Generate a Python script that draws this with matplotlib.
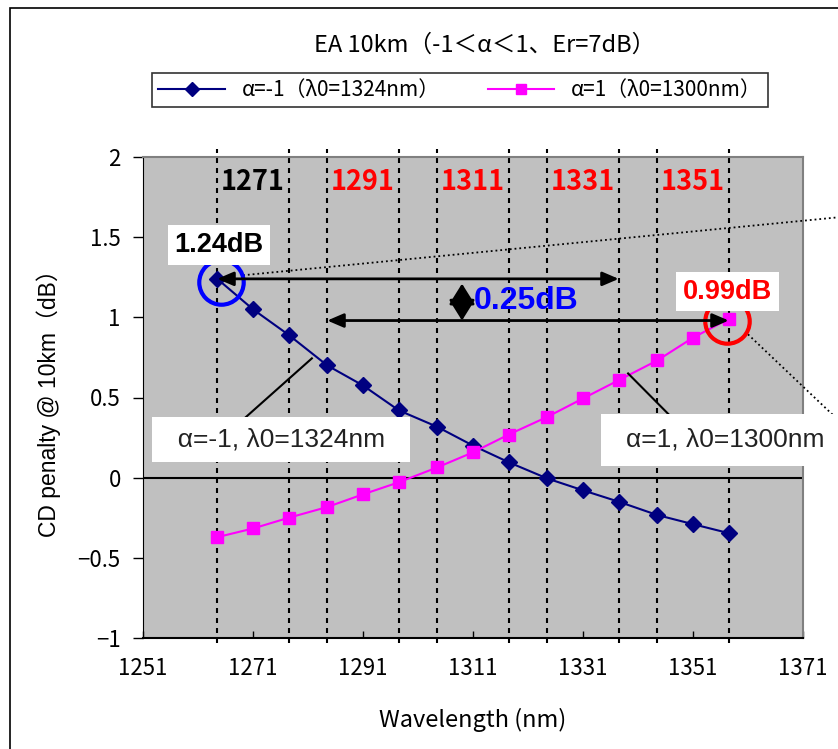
import matplotlib
matplotlib.use('Agg')
import matplotlib.pyplot as plt
from matplotlib.patches import Rectangle

# data
wavelength = [1264.5, 1271, 1277.5, 1284.5, 1291, 1297.5, 1304.5, 1311,
              1317.5, 1324.5, 1331, 1337.5, 1344.5, 1351, 1357.5]
penalty_neg = [1.24, 1.05, 0.89, 0.70, 0.575, 0.42, 0.317, 0.20, 0.096,
               -0.005, -0.079, -0.15, -0.233, -0.29, -0.346]
penalty_pos = [-0.371, -0.317, -0.25, -0.183, -0.104, -0.029, 0.064, 0.158,
               0.269, 0.379, 0.494, 0.608, 0.731, 0.873, 0.99]
band_centers = [1271, 1291, 1311, 1331, 1351]
band_colors = ['black', 'red', 'red', 'red', 'red']
band_halfwidth = 6.5

label_neg = 'α=-1（λ0=1324nm）'
label_pos = 'α=1（λ0=1300nm）'
title = 'EA 10km（-1＜α＜1、Er=7dB）'

JP = 'Noto Sans CJK JP'
SANS = ['Liberation Sans', 'Noto Sans CJK JP']

fig = plt.figure(figsize=(8.38, 7.49), dpi=100)
fig.patches.append(Rectangle((10 / 838, -0.1), 1.2, 1.1 - 8 / 749, transform=fig.transFigure,
                             fill=False, edgecolor='black', lw=1.2))

ax = fig.add_axes([143 / 838, 111 / 749, 660 / 838, 481 / 749])
ax.set_facecolor('#c0c0c0')
ax.set_xlim(1251, 1371)
ax.set_ylim(-1, 2)

# band edges
for c in band_centers:
    for e in (c - band_halfwidth, c + band_halfwidth):
        ax.plot([e, e], [-1.03, 2.05], color='black', lw=1.5,
                linestyle=(0, (2.4, 2.4)), clip_on=False, zorder=2)
for c, col in zip(band_centers, band_colors):
    ax.text(c, 1.845, str(c), color=col, fontsize=19.5, fontweight='bold',
            family=JP, ha='center', va='center', zorder=6)

ax.axhline(0, color='black', lw=1.5, zorder=2)

ax.plot(wavelength, penalty_neg, color='#000080', lw=1.5, marker='D',
        markersize=8, label=label_neg, zorder=4)
ax.plot(wavelength, penalty_pos, color='#ff00ff', lw=1.5, marker='s',
        markersize=8, label=label_pos, zorder=4)

# highlight circles
ax.plot(1265.2, 1.219, marker='o', markersize=32, mfc='none', mec='#0000ff',
        mew=3, zorder=5)
ax.plot(1357.2, 0.975, marker='o', markersize=32, mfc='none', mec='#ff0000',
        mew=3, zorder=5, clip_on=False)

# dotted leaders to the neighbouring charts
ax.plot([1269.2, 1380], [1.2625, 1.6325], color='black', lw=1.3,
        linestyle=':', clip_on=False, zorder=3)
ax.plot([1361.0, 1380], [0.894, 0.275], color='black', lw=1.3,
        linestyle=':', clip_on=False, zorder=3)

arrow = dict(arrowstyle='<|-|>,head_length=0.7,head_width=0.3', color='black',
             lw=2, shrinkA=0, shrinkB=0, mutation_scale=14)
ax.annotate('', xy=(1264.5, 1.24), xytext=(1337.5, 1.24), arrowprops=arrow, zorder=5)
ax.annotate('', xy=(1284.5, 0.98), xytext=(1357.5, 0.98), arrowprops=arrow, zorder=5)
ax.annotate('', xy=(1309.0, 0.98), xytext=(1309.0, 1.21),
            arrowprops=dict(arrowstyle='<|-|>,head_length=0.8,head_width=0.5',
                            color='black', lw=2, shrinkA=0, shrinkB=0,
                            mutation_scale=16), zorder=5)

ax.text(1320.6, 1.10, '0.25dB', color='#0000ff', fontsize=23, fontweight='bold',
        family=SANS, ha='center', va='center', zorder=6)
ax.text(1264.8, 1.45, '1.24dB', color='black', fontsize=19.5, fontweight='bold',
        family=SANS, ha='center', va='center', zorder=6,
        bbox=dict(boxstyle='square,pad=0.25', fc='white', ec='none'))
ax.text(1357.3, 1.16, '0.99dB', color='red', fontsize=19.5, fontweight='bold',
        family=SANS, ha='center', va='center', zorder=6,
        bbox=dict(boxstyle='square,pad=0.25', fc='white', ec='none'))

# callouts
ax.plot([1269.2, 1281.7], [0.3625, 0.744], color='black', lw=1.5, zorder=5)
ax.plot([1339.2, 1347.7], [0.65, 0.356], color='black', lw=1.5, zorder=5,
        clip_on=False)
ax.text(1276.1, 0.2375, '  α=-1, λ0=1324nm  ', color='#222222', fontsize=19,
        family=SANS, ha='center', va='center', zorder=6,
        bbox=dict(boxstyle='square,pad=0.4', fc='white', ec='none'))
ax.add_patch(Rectangle((1334.3, 0.075), 50, 0.325, fc='white', ec='none',
                       zorder=5.5, clip_on=False))
ax.text(1356.8, 0.2375, 'α=1, λ0=1300nm', color='#222222', fontsize=19,
        family=SANS, ha='center', va='center', zorder=6, clip_on=False)

ax.set_xticks(range(1251, 1372, 20))
ax.set_yticks([-1, -0.5, 0, 0.5, 1, 1.5, 2])
ax.set_yticklabels(['−1', '−0.5', '0', '0.5', '1', '1.5', '2'])
ax.tick_params(axis='x', direction='in', length=5, width=1, pad=14, labelsize=16)
ax.tick_params(axis='y', direction='out', length=7, width=1, pad=9, labelsize=16)
for lab in ax.get_xticklabels() + ax.get_yticklabels():
    lab.set_family(JP)

for s in ('top', 'right'):
    ax.spines[s].set_color('#808080')
    ax.spines[s].set_linewidth(1.5)
ax.spines['left'].set_color('black')
ax.spines['bottom'].set_color('black')
ax.spines['bottom'].set_linewidth(1.5)

ax.set_xlabel('Wavelength (nm)', family=JP, fontsize=17, labelpad=20)
ax.set_ylabel('CD penalty @ 10km（dB）', family=SANS, fontsize=16.5, labelpad=12)

fig.text(485 / 838, 1 - 45 / 749, title, family=JP, fontsize=17,
         ha='center', va='center')
leg = ax.legend(loc='center', bbox_to_anchor=(460 / 838, 1 - 90 / 749),
                bbox_transform=fig.transFigure, ncol=2, frameon=True,
                fancybox=False, edgecolor='black', prop={'family': JP, 'size': 15},
                handlelength=3.2, columnspacing=2.3, borderpad=0.3,
                numpoints=1, markerscale=0.9)
leg.get_frame().set_linewidth(1.2)

fig.savefig('out.png', dpi=100)
